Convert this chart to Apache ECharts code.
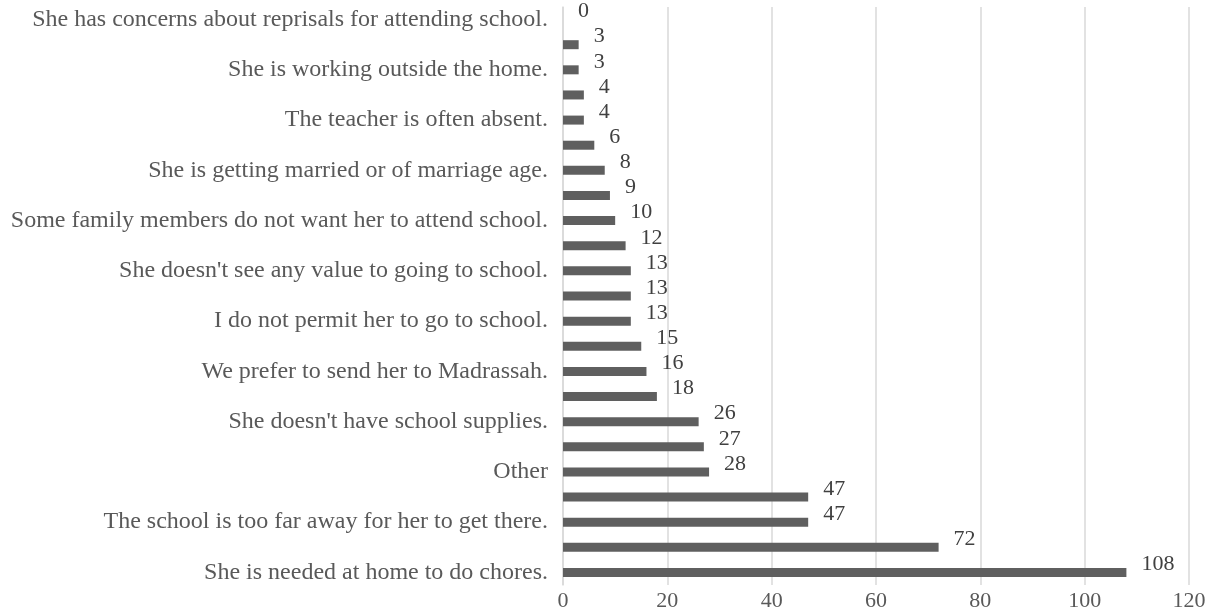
<!DOCTYPE html>
<html>
<head>
<meta charset="utf-8">
<script src="https://cdn.jsdelivr.net/npm/echarts@6/dist/echarts.min.js"></script>
<style>html,body{margin:0;padding:0;background:#fff;}#chart{width:1217px;height:614px;}</style>
</head>
<body>
<div id="chart"></div>
<script>
// Categories from top to bottom (only every other one is labelled in the reference)
const categories = [
  "She has concerns about reprisals for attending school.", "",
  "She is working outside the home.", "",
  "The teacher is often absent.", "",
  "She is getting married or of marriage age.", "",
  "Some family members do not want her to attend school.", "",
  "She doesn't see any value to going to school.", "",
  "I do not permit her to go to school.", "",
  "We prefer to send her to Madrassah.", "",
  "She doesn't have school supplies.", "",
  "Other", "",
  "The school is too far away for her to get there.", "",
  "She is needed at home to do chores."
];
const values = [0, 3, 3, 4, 4, 6, 8, 9, 10, 12, 13, 13, 13, 15, 16, 18, 26, 27, 28, 47, 47, 72, 108];
const xTicks = { min: 0, max: 120, interval: 20 };

const chart = echarts.init(document.getElementById('chart'), null, { renderer: 'canvas' });
const font = '"Liberation Serif", "Times New Roman", serif';
chart.setOption({
  animation: false,
  backgroundColor: '#ffffff',
  grid: { left: 563, right: 28, top: 7, bottom: 29, containLabel: false },
  xAxis: {
    type: 'value', min: xTicks.min, max: xTicks.max, interval: xTicks.interval,
    axisLine: { show: false }, axisTick: { show: false },
    splitLine: { show: true, lineStyle: { color: '#d9d9d9', width: 1.5 } },
    axisLabel: { color: '#595959', fontFamily: font, fontSize: 22, margin: 5 }
  },
  yAxis: {
    type: 'category', data: categories, inverse: true,
    axisLine: { show: true, lineStyle: { color: '#d9d9d9', width: 1.5 } },
    axisTick: { show: false },
    axisLabel: { interval: 0, color: '#595959', fontFamily: font, fontSize: 24, margin: 15 }
  },
  series: [{
    type: 'bar', data: values, barWidth: 9,
    itemStyle: { color: '#5f5f5f' },
    label: {
      show: true, position: 'right', distance: 15, offset: [0, -8],
      color: '#404040', fontFamily: font, fontSize: 22
    }
  }]
});
</script>
</body>
</html>
